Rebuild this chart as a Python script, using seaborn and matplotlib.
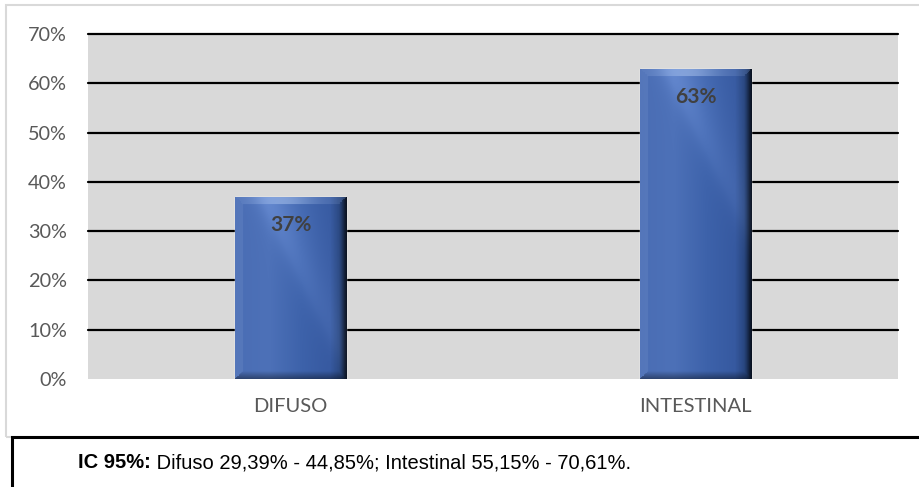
import numpy as np
import pandas as pd
import matplotlib
matplotlib.use("Agg")
import matplotlib.pyplot as plt
from matplotlib.colors import LinearSegmentedColormap, to_rgb
from matplotlib.patches import Rectangle
import seaborn as sns

# Data
categories = ["DIFUSO", "INTESTINAL"]
shares = [0.37, 0.63]
bar_labels = ["37%", "63%"]
ytick_values = [0.0, 0.1, 0.2, 0.3, 0.4, 0.5, 0.6, 0.7]
ytick_labels = ["0%", "10%", "20%", "30%", "40%", "50%", "60%", "70%"]
caption_bold = "IC 95%:"
caption_text = " Difuso 29,39% - 44,85%; Intestinal 55,15% - 70,61%."

df = pd.DataFrame({"tipo": categories, "pct": shares})

sns.set_theme(style="white")
plt.rcParams["font.family"] = ["Lato", "DejaVu Sans"]

W, H = 919, 487
fig = plt.figure(figsize=(W / 100, H / 100), dpi=100)
fig.patch.set_facecolor("white")

# outer chart frame
fig.add_artist(Rectangle((6 / W, 1 - 437 / H), 1.2, (437 - 5) / H,
                         transform=fig.transFigure, fill=False,
                         edgecolor="#d9d9d9", linewidth=1.5))

ax = fig.add_axes([88 / W, 1 - 379 / H, (898 - 88) / W, (379 - 34) / H])
ax.set_facecolor("#d9d9d9")

sns.barplot(data=df, x="tipo", y="pct", ax=ax, width=0.275,
            color="#3d62aa", saturation=1, zorder=3)

ax.set_xlim(-0.5, 1.5)
ax.set_ylim(0, 0.7)
ax.set_yticks(ytick_values)
ax.set_yticklabels(ytick_labels)
for y in ytick_values[1:]:
    ax.axhline(y, color="black", linewidth=1.6, zorder=2, clip_on=False)
for s in ax.spines.values():
    s.set_visible(False)
ax.set_xlabel("")
ax.set_ylabel("")
ax.tick_params(axis="y", colors="#595959", labelsize=14.3, length=0, pad=15)
ax.tick_params(axis="x", colors="#595959", labelsize=14.5, length=0, pad=14)

# glossy bevelled shading on each bar
horiz = LinearSegmentedColormap.from_list(
    "h", [(0.0, "#4a6db4"), (0.3, "#4d71b8"), (0.6, "#3d62aa"),
          (0.85, "#3659a0"), (0.95, "#26437a"), (1.0, "#0f1c35")])
fig.canvas.draw()
to_px = ax.transData
light = np.array(to_rgb("#b4ccf2"))
for patch, lab in zip(ax.patches, bar_labels):
    x0, y0 = patch.get_x(), patch.get_y()
    w, h = patch.get_width(), patch.get_height()
    (px0, py0), (px1, py1) = to_px.transform([(x0, y0), (x0 + w, y0 + h)])
    wpx, hpx = int(round(px1 - px0)), int(round(py1 - py0))
    U, V = np.meshgrid((np.arange(wpx) + 0.5) / wpx,
                       (np.arange(hpx) + 0.5) / hpx)
    rgb = horiz(U)[..., :3]
    # light diagonal streak across the upper-left part
    d = (U * wpx * 0.9 + V * hpx * 0.45) - (0.45 * hpx + 0.2 * wpx)
    streak = 1 / (1 + np.exp(-d / 5)) * np.exp(-np.clip(d, 0, None) / 30)
    fade = np.clip(1.2 - U * 1.6, 0, 1)
    rgb = rgb + (0.16 * streak * (0.5 + 0.5 * fade))[..., None]
    # mitred bevel frame
    bw = 8.0
    dl, dr = U * wpx, (1 - U) * wpx
    dt, db = (1 - V) * hpx, V * hpx
    dmin = np.minimum.reduce([dl, dr, dt, db])
    inb = dmin < bw
    f = np.clip(1 - dmin / bw, 0, 1)[..., None]
    top = (inb & (dt == dmin))[..., None]
    bot = (inb & (db == dmin))[..., None]
    lef = (inb & (dl == dmin))[..., None]
    rig = (inb & (dr == dmin))[..., None]
    glow = np.exp(-((U - 0.45) / 0.25) ** 2)[..., None]
    a = 0.35 * glow + 0.12
    rgb = np.where(top, rgb * (1 - a) + light * a, rgb)
    rgb = np.where(lef, rgb * 0.9 + 0.1 * light, rgb)
    rgb = np.where(rig, rgb * (1 - 0.45 * f), rgb)
    rgb = np.where(bot, rgb * (1 - 0.4 * f), rgb)
    rgb = np.clip(rgb, 0, 1)
    im = ax.imshow(rgb, extent=(x0, x0 + w, y0, y0 + h), origin="lower",
                   aspect="auto", zorder=4, interpolation="bilinear")
    im.set_clip_path(patch)
    ax.text(x0 + w / 2, y0 + h - 0.057, lab, ha="center", va="center",
            fontsize=15, fontweight="bold", color="#404040", zorder=5)

ax.set_xlim(-0.5, 1.5)
ax.set_ylim(0, 0.7)

# caption box
fig.add_artist(Rectangle((12 / W, -0.05), 1.2, (487 - 437) / H + 0.05,
                         transform=fig.transFigure, facecolor="white",
                         edgecolor="black", linewidth=2.2))
cap_font = ["Liberation Sans", "DejaVu Sans"]
t = fig.text(78 / W, 1 - 463 / H, caption_bold, fontsize=14.5, fontweight="bold",
             family=cap_font, va="center", ha="left", color="black")
fig.canvas.draw()
bb = t.get_window_extent()
fig.text(bb.x1 / W, 1 - 463 / H, caption_text, fontsize=14.5,
         family=cap_font, va="center", ha="left", color="black")

fig.savefig("out.png", dpi=100)
